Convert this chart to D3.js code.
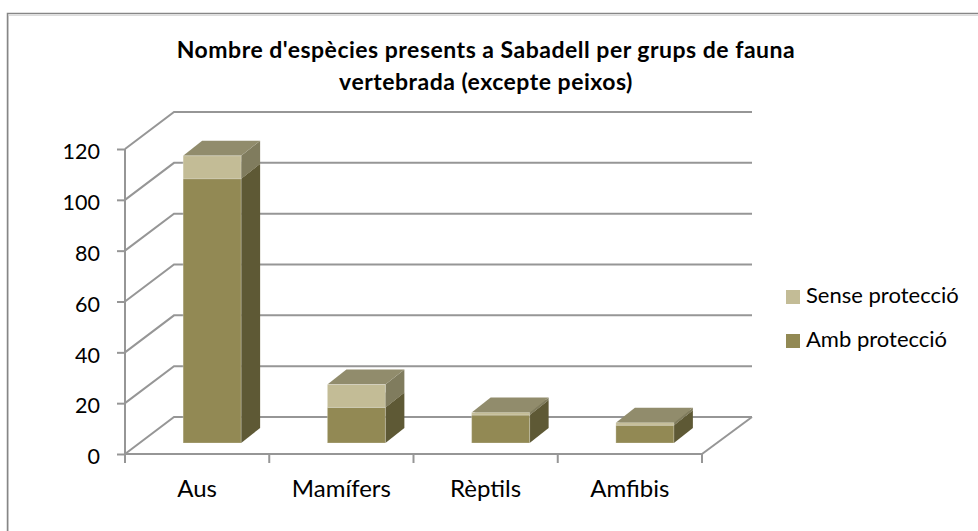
<!DOCTYPE html>
<html>
<head>
<meta charset="utf-8">
<script src="https://cdn.jsdelivr.net/npm/d3@7"></script>
<style>
  html, body { margin: 0; padding: 0; background: #fff; }
  svg { display: block; }
  text { font-family: Lato, "Open Sans", sans-serif; fill: #000; }
</style>
</head>
<body>
<svg id="chart"></svg>
<script>
const categories = ['Aus', 'Mamífers', 'Rèptils', 'Amfibis'];
const ambProteccio = [104, 14, 11, 7];
const senseProteccio = [9, 9, 1, 1];
const yTicks = [0, 20, 40, 60, 80, 100, 120];
const titleLines = ["Nombre d'espècies presents a Sabadell per grups de fauna", 'vertebrada (excepte peixos)'];
const legendLabels = ['Sense protecció', 'Amb protecció'];

const width = 978;
const height = 531;
const marginLeft = 125;
const plotRight = 702;
const plotBottom = 454;
const plotTop = 149;
// how far the back wall is pushed from the front plane
const wallX = 49;
const wallY = 37;
// bars sit in the middle of the floor
const barShiftX = 15;
const barShiftY = 11;
const depthX = 19;
const depthY = 15;
const barWidth = 58;

const gridColor = '#969696';
const colorsAmb = { front: '#928954', side: '#5e5935', top: '#918c6c' };
const colorsSense = { front: '#c3bc96', side: '#807c5e', top: '#918c6c' };

const svg = d3.select('#chart')
  .attr('width', width)
  .attr('height', height)
  .attr('viewBox', [0, 0, width, height]);

// the frame is cut off by the screenshot on the right and at the bottom
svg.append('polyline')
  .attr('points', '7.5,531 7.5,14.5 978,14.5')
  .attr('fill', 'none')
  .attr('stroke', '#dcdcdc')
  .attr('stroke-width', 1)
  .attr('transform', 'translate(1,1)');
svg.append('polyline')
  .attr('points', '7.5,531 7.5,13.5 978,13.5')
  .attr('fill', 'none')
  .attr('stroke', '#868686')
  .attr('stroke-width', 1.5);

const x = d3.scaleBand().domain(categories).range([marginLeft, plotRight]);
const y = d3.scaleLinear().domain([0, 120]).range([plotBottom, plotTop]);

/** WALLS **/
const grid = svg.append('g')
  .attr('fill', 'none')
  .attr('stroke', gridColor)
  .attr('stroke-width', 2);

yTicks.forEach((t) => {
  grid.append('polyline')
    .attr('points', [
      [marginLeft, y(t)],
      [marginLeft + wallX, y(t) - wallY],
      [plotRight + wallX + 1, y(t) - wallY],
    ].join(' '));
});
// floor edge on the right
grid.append('line')
  .attr('x1', plotRight).attr('y1', plotBottom)
  .attr('x2', plotRight + wallX + 1).attr('y2', plotBottom - wallY);

/** AXES **/
const axisY = svg.append('g')
  .attr('transform', `translate(${marginLeft},0)`)
  .call(d3.axisLeft(y).tickValues(yTicks).tickSize(8).tickPadding(17));
const axisX = svg.append('g')
  .attr('transform', `translate(0,${plotBottom})`)
  .call(d3.axisBottom(x).tickSize(0).tickPadding(26));

// category ticks go between the bands, so add them by hand from the band scale
axisX.selectAll('.edge')
  .data(categories.concat(['end']))
  .join('line')
  .attr('class', 'edge')
  .attr('x1', (d, i) => marginLeft + i * x.step())
  .attr('x2', (d, i) => marginLeft + i * x.step())
  .attr('y1', 0).attr('y2', 9)
  .attr('stroke', gridColor).attr('stroke-width', 2);

[axisY, axisX].forEach((a) => {
  a.selectAll('.domain').attr('stroke', gridColor).attr('stroke-width', 2);
  a.selectAll('.tick line').attr('stroke', gridColor).attr('stroke-width', 2);
  a.selectAll('text').style('font-family', 'Lato, sans-serif');
});
axisY.selectAll('text').attr('font-size', 21.5).attr('dy', '0.45em');
axisX.selectAll('text').attr('font-size', 24);
axisX.select('.domain').attr('d', `M${marginLeft},0H${plotRight}`);
axisY.select('.domain').attr('d', `M0,${plotTop}V${plotBottom}`);

/** BARS **/
function drawBox(g, xLeft, yBottom, yTop, c) {
  const xRight = xLeft + barWidth;
  g.append('path')
    .attr('fill', c.side)
    .attr('d', `M${xRight},${yBottom}l${depthX},${-depthY}V${yTop - depthY}L${xRight},${yTop}Z`);
  g.append('path')
    .attr('fill', c.top)
    .attr('d', `M${xLeft},${yTop}l${depthX},${-depthY}h${barWidth}l${-depthX},${depthY}Z`);
  g.append('rect')
    .attr('x', xLeft).attr('y', yTop)
    .attr('width', barWidth).attr('height', yBottom - yTop)
    .attr('fill', c.front)
    .attr('stroke', '#fff').attr('stroke-opacity', 0.25).attr('stroke-width', 1);
}

categories.forEach((cat, i) => {
  const g = svg.append('g');
  const left = x(cat) + (x.bandwidth() - barWidth) / 2 + barShiftX;
  drawBox(g, left, y(0) - barShiftY, y(ambProteccio[i]) - barShiftY, colorsAmb);
  drawBox(g, left, y(ambProteccio[i]) - barShiftY, y(ambProteccio[i] + senseProteccio[i]) - barShiftY, colorsSense);
});

/** TITLE **/
svg.append('g').selectAll('text')
  .data(titleLines)
  .join('text')
  .attr('x', 486)
  .attr('y', (d, i) => 58 + i * 32)
  .attr('text-anchor', 'middle')
  .attr('font-size', 23)
  .attr('letter-spacing', 0.5)
  .attr('font-weight', 700)
  .text((d) => d);

/** LEGEND **/
const legend = svg.append('g');
const legendColors = [colorsSense.front, colorsAmb.front];
legendLabels.forEach((label, i) => {
  legend.append('rect')
    .attr('x', 786).attr('y', 290 + i * 44)
    .attr('width', 14).attr('height', 14)
    .attr('fill', legendColors[i]);
  legend.append('text')
    .attr('x', 806).attr('y', 303 + i * 44)
    .attr('font-size', 22)
    .text(label);
});
</script>
</body>
</html>
